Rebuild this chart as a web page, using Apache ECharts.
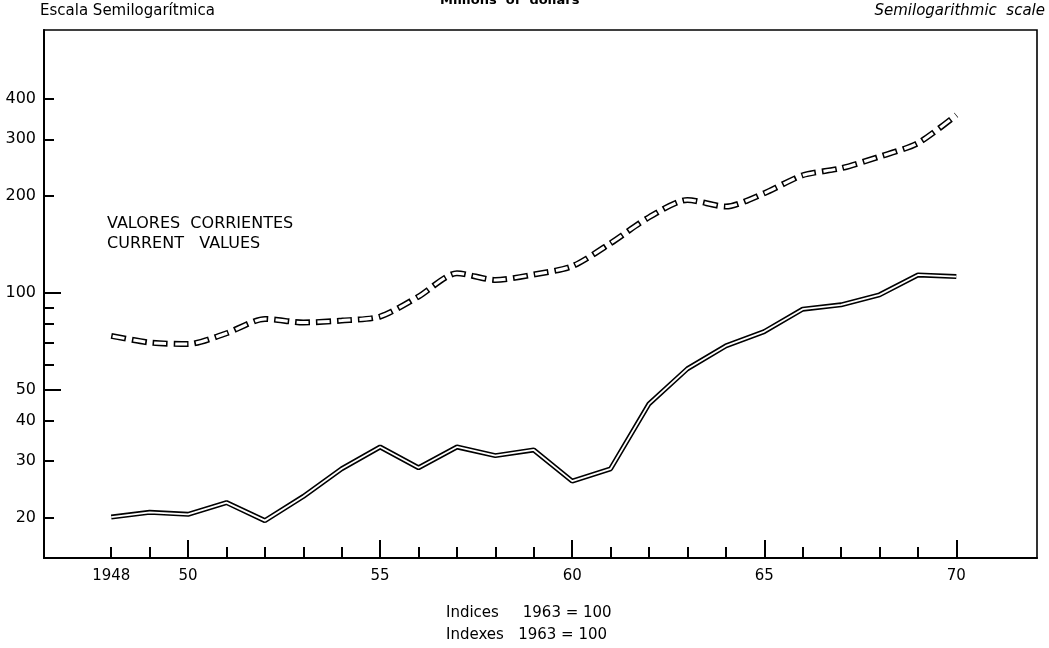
<!DOCTYPE html>
<html>
<head>
<meta charset="utf-8">
<title>Semilogarithmic chart</title>
<script src="https://cdn.jsdelivr.net/npm/echarts@6/dist/echarts.min.js"></script>
<style>
  html, body { margin: 0; padding: 0; background: #fff; }
  #chart { width: 1049px; height: 648px; }
</style>
</head>
<body>
<div id="chart"></div>
<script>
// Values (log scale)
const years = [1948, 1949, 1950, 1951, 1952, 1953, 1954, 1955, 1956, 1957, 1958,
  1959, 1960, 1961, 1962, 1963, 1964, 1965, 1966, 1967, 1968, 1969, 1970];
const currentValues = [73.5, 70.1, 69.3, 74.9, 83.0, 80.9, 82.0, 84.4, 97.4, 115.1, 109.7,
  114.0, 121.0, 142.7, 171.8, 194.5, 185.4, 204.0, 232.0, 244.0, 265.0, 292.0, 357.0];
const indexValues = [20.1, 20.8, 20.5, 22.3, 19.6, 23.3, 28.4, 33.2, 28.6, 33.2, 31.2,
  32.5, 26.0, 28.4, 45.2, 58.1, 68.4, 75.8, 89.0, 91.8, 98.6, 113.7, 112.4];

const yLabelValues = [20, 30, 40, 50, 100, 200, 300, 400];
const yTickValues = [20, 30, 40, 50, 60, 70, 80, 90, 100, 200, 300, 400];
const yLongTickValues = [50, 100];
const xLabelValues = [1948, 1950, 1955, 1960, 1965, 1970];
const xMajorTickValues = [1950, 1955, 1960, 1965, 1970];

const FONT = 'DejaVu Sans';

const chart = echarts.init(document.getElementById('chart'), null, { renderer: 'canvas' });

function pairs(vals) {
  return years.map((y, i) => [y, vals[i]]);
}

const logAxisBase = {
  type: 'log',
  logBase: 10,
  min: 15,
  max: 656,
  position: 'left',
  splitLine: { show: false },
  minorTick: { show: false }
};

const option = {
  animation: false,
  backgroundColor: '#fff',
  grid: {
    left: 44,
    right: 12,
    top: 30,
    bottom: 90,
    show: true,
    borderColor: '#000',
    borderWidth: 1.6,
    outerBoundsMode: 'none'
  },
  xAxis: [
    {
      type: 'value',
      min: 1946.25,
      max: 1972.1,
      position: 'bottom',
      splitLine: { show: false },
      axisLine: { show: true, lineStyle: { color: '#000', width: 2 } },
      axisTick: {
        show: true, inside: true, length: 11,
        customValues: years,
        lineStyle: { color: '#000', width: 2 }
      },
      axisLabel: {
        customValues: xLabelValues,
        margin: 11,
        color: '#000',
        fontFamily: FONT,
        fontSize: 15,
        formatter: v => (v === 1948 ? '1948' : String(v % 100))
      }
    },
    {
      type: 'value',
      min: 1946.25,
      max: 1972.1,
      position: 'bottom',
      offset: 0,
      splitLine: { show: false },
      axisLine: { show: false },
      axisTick: {
        show: true, inside: true, length: 18,
        customValues: xMajorTickValues,
        lineStyle: { color: '#000', width: 2 }
      },
      axisLabel: { show: false }
    }
  ],
  yAxis: [
    Object.assign({}, logAxisBase, {
      axisLine: { show: true, lineStyle: { color: '#000', width: 2 } },
      axisTick: {
        show: true, inside: true, length: 10,
        customValues: yTickValues,
        lineStyle: { color: '#000', width: 2 }
      },
      axisLabel: {
        customValues: yLabelValues,
        margin: 8,
        color: '#000',
        fontFamily: FONT,
        fontSize: 16
      }
    }),
    Object.assign({}, logAxisBase, {
      offset: 0,
      axisLine: { show: false },
      axisTick: {
        show: true, inside: true, length: 17,
        customValues: yLongTickValues,
        lineStyle: { color: '#000', width: 2 }
      },
      axisLabel: { show: false }
    })
  ],
  series: [
    // current values: outlined dashes
    {
      type: 'line',
      data: pairs(currentValues),
      symbol: 'none',
      smooth: 0.25,
      silent: true,
      z: 2,
      lineStyle: { color: '#000', width: 6, type: [15, 6], cap: 'butt' }
    },
    {
      type: 'line',
      data: pairs(currentValues),
      symbol: 'none',
      smooth: 0.25,
      silent: true,
      z: 3,
      lineStyle: { color: '#fff', width: 3, type: [12, 9], dashOffset: -1.5, cap: 'butt' }
    },
    // index series: double solid line
    {
      type: 'line',
      data: pairs(indexValues),
      symbol: 'none',
      silent: true,
      z: 2,
      lineStyle: { color: '#000', width: 5 }
    },
    {
      type: 'line',
      data: pairs(indexValues),
      symbol: 'none',
      silent: true,
      z: 3,
      lineStyle: { color: '#fff', width: 1.8 }
    }
  ],
  graphic: [
    {
      type: 'text', left: 40, top: 4,
      style: { text: 'Escala Semilogarítmica', fontFamily: FONT, fontSize: 15, fill: '#000' }
    },
    {
      type: 'text', right: 4, top: 4,
      style: { text: 'Semilogarithmic  scale', fontFamily: FONT, fontSize: 15, fontStyle: 'italic', fill: '#000' }
    },
    {
      type: 'text', left: 440, top: -6,
      style: { text: 'Millions  of  dollars', fontFamily: FONT, fontSize: 13, fontWeight: 'bold', fill: '#000' }
    },
    {
      type: 'text', left: 107, top: 214,
      style: { text: 'VALORES  CORRIENTES\nCURRENT   VALUES', fontFamily: FONT, fontSize: 16, lineHeight: 20, fill: '#000' }
    },
    {
      type: 'text', left: 446, top: 602,
      style: { text: 'Indices     1963 = 100\nIndexes   1963 = 100', fontFamily: FONT, fontSize: 15, lineHeight: 22, fill: '#000' }
    }
  ]
};

chart.setOption(option);
</script>
</body>
</html>
